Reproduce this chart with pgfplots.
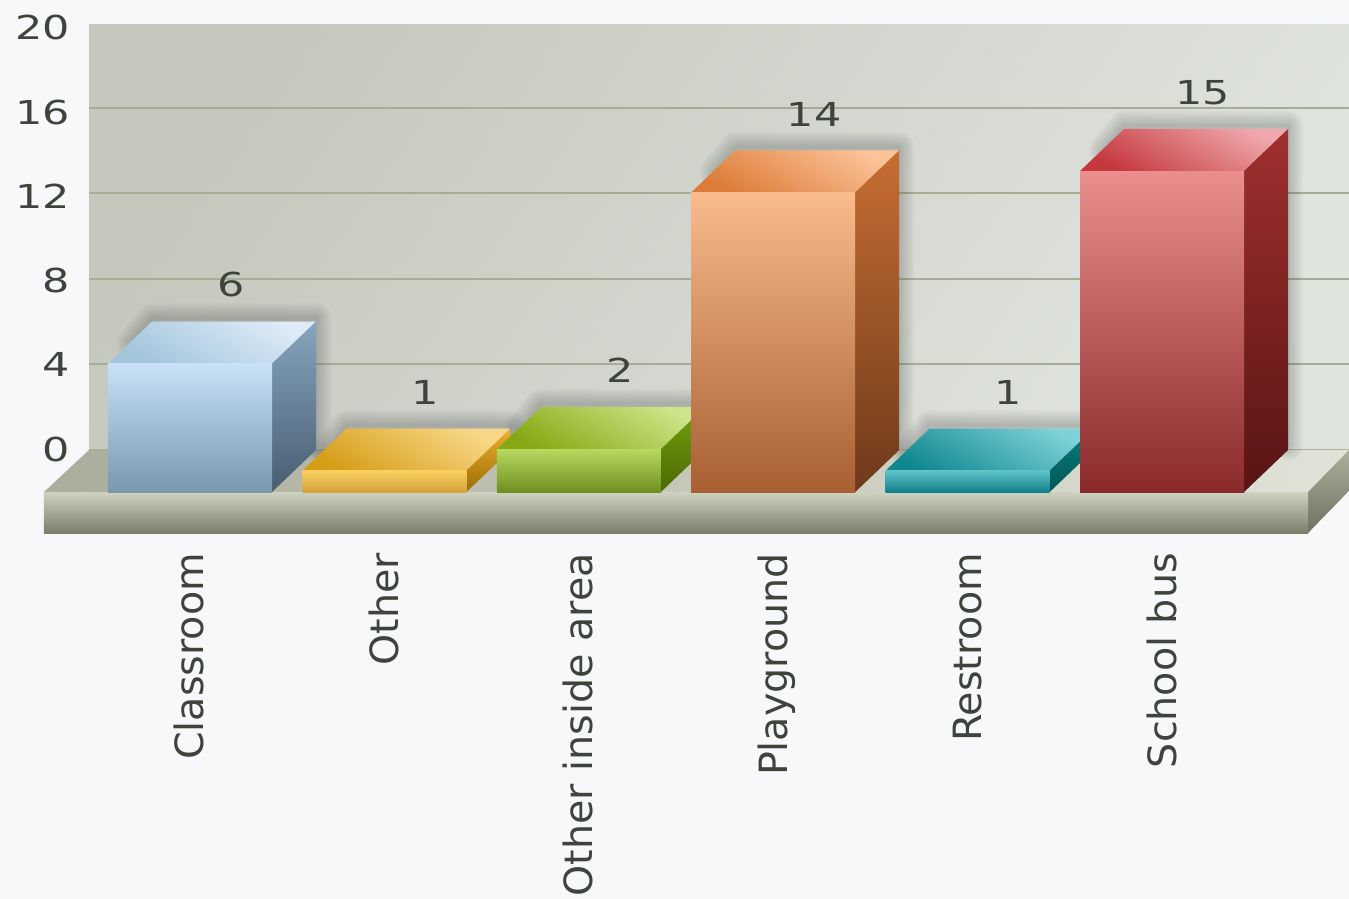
\documentclass[border=0pt]{standalone}
\usepackage{fontspec}
\setmainfont{DejaVu Sans}
\usepackage{graphicx}
\usepackage{pgfplots}
\usepackage{pgfplotstable}
\pgfplotsset{compat=1.18}

% one pt in the file is one pixel of the reference
\pgfplotstableread{
idx value
0 6
1 1
2 2
3 14
4 1
5 15
}\incidents

\definecolor{labeltext}{HTML}{3E443C}
% 1 front top, 2 front bottom, 3 side top, 4 side bottom, 5 lid dark, 6 lid light
\definecolor{aa1}{HTML}{C8E1F7}\definecolor{aa2}{HTML}{7898AE}\definecolor{aa3}{HTML}{86A5BE}\definecolor{aa4}{HTML}{495D72}\definecolor{aa5}{HTML}{A3C4DB}\definecolor{aa6}{HTML}{DEEBF8}
\definecolor{bb1}{HTML}{F9D060}\definecolor{bb2}{HTML}{D4A23A}\definecolor{bb3}{HTML}{F0AE2C}\definecolor{bb4}{HTML}{9A6E06}\definecolor{bb5}{HTML}{D69E18}\definecolor{bb6}{HTML}{F8D888}
\definecolor{cc1}{HTML}{B8D960}\definecolor{cc2}{HTML}{6F8E20}\definecolor{cc3}{HTML}{74A012}\definecolor{cc4}{HTML}{4A6A00}\definecolor{cc5}{HTML}{86A812}\definecolor{cc6}{HTML}{CDE588}
\definecolor{dd1}{HTML}{FABB8C}\definecolor{dd2}{HTML}{A85F32}\definecolor{dd3}{HTML}{C66E32}\definecolor{dd4}{HTML}{6E391C}\definecolor{dd5}{HTML}{DC7C38}\definecolor{dd6}{HTML}{FCC298}
\definecolor{ee1}{HTML}{5EC2C8}\definecolor{ee2}{HTML}{10808A}\definecolor{ee3}{HTML}{0B7C7C}\definecolor{ee4}{HTML}{005858}\definecolor{ee5}{HTML}{108890}\definecolor{ee6}{HTML}{80D2DA}
\definecolor{ff1}{HTML}{EA8E8E}\definecolor{ff2}{HTML}{8A2A2A}\definecolor{ff3}{HTML}{A03030}\definecolor{ff4}{HTML}{581414}\definecolor{ff5}{HTML}{C4383E}\definecolor{ff6}{HTML}{F0A8AC}

\newcommand\stretched[1]{\scalebox{1.3}[1]{#1}}
\newcommand\stretchedx[1]{\scalebox{1.2}[1.18]{#1}}
\newcommand\ylab[2]{\raisebox{-#2pt}{\stretched{#1}}}

% halo behind a bar: #1 category, #2 value
\newcommand\barhalo[2]{%
  \pgfmathsetmacro\hL{#1-0.3}\pgfmathsetmacro\hR{#1+0.4218}%
  \pgfmathsetmacro\hBL{#1-0.1955}\pgfmathsetmacro\hBR{#1+0.6481}%
  \pgfmathsetmacro\hF{#2-1.0}\pgfmathsetmacro\hT{#2+0.15}%
  \pgfplotsinvokeforeach{30,26,22,18,14,10,6,3}{%
    \addplot[draw=black!70,draw opacity=.04,line width=##1pt,line join=round,line cap=round]
      coordinates {(\hL,\hF) (\hBL,\hT) (\hBR,\hT) (\hBR,0.2)};
  }%
}
% the three faces: #1 category, #2 value, #3 colour prefix
\newcommand\drawbar[3]{%
  \pgfmathsetmacro\bL{#1-0.4218}\pgfmathsetmacro\bR{#1+0.4218}%
  \pgfmathsetmacro\bBL{#1-0.1955}\pgfmathsetmacro\bBR{#1+0.6481}%
  \pgfmathsetmacro\bF{#2-1.963}%
  \addplot[draw=none,top color=#36,bottom color=#35,shading angle=-30]
    coordinates {(\bL,\bF) (\bBL,#2) (\bBR,#2) (\bR,\bF)} -- cycle;
  \addplot[draw=none,top color=#33,bottom color=#34]
    coordinates {(\bR,-1.963) (\bR,\bF) (\bBR,#2) (\bBR,0)} -- cycle;
  \addplot[draw=none,top color=#31,bottom color=#32]
    coordinates {(\bL,-1.963) (\bL,\bF) (\bR,\bF) (\bR,-1.963)} -- cycle;
}

\begin{document}
\begin{tikzpicture}[x=1pt,y=1pt]
\clip (0,0) rectangle (1349,899);
\fill[color={rgb,255:red,247;green,248;blue,249}] (0,0) rectangle (1349,899);
% back wall, stops a little below the 20 line
\path[top color={rgb,255:red,196;green,200;blue,189},bottom color={rgb,255:red,224;green,228;blue,222},shading angle=55]
  (89,449) rectangle (1349,874);
\begin{axis}[
  at={(89pt,449pt)},
  anchor=south west,
  scale only axis,
  width=1260pt,
  height=428pt,
  xmin=-0.5195,
  xmax=5.962,
  ymin=0,
  ymax=20,
  clip=false,
  axis line style={draw=none},
  major tick length=0pt,
  ymajorgrids,
  grid style={color={rgb,255:red,168;green,172;blue,148},line width=2pt},
  ytick={0,4,8,12,16},
  yticklabels={\ylab{0}{0},\ylab{4}{0},\ylab{8}{2},\ylab{12}{3},\ylab{16}{5}},
  extra y ticks={20},
  extra y tick labels={\ylab{20}{6}},
  extra y tick style={grid=none},
  xtick={0,1,2,3,4,5},
  xticklabels={\stretchedx{Classroom},\stretchedx{Other},\stretchedx{Other inside area},\stretchedx{Playground},\stretchedx{Restroom},\stretchedx{School bus}},
  tick label style={font=\fontsize{33}{33}\selectfont,text=labeltext},
  yticklabel style={anchor=base east,inner sep=0pt,xshift=-19pt,yshift=-12pt},
  xticklabel style={rotate=90,anchor=base east,inner sep=0pt,xshift=-103pt,yshift=-14pt},
]
% floor
\addplot[draw=none,left color={rgb,255:red,170;green,173;blue,155},right color={rgb,255:red,224;green,227;blue,216}]
  coordinates {(-0.751,-1.963) (-0.5195,0) (5.962,0) (5.751,-1.963)} -- cycle;
\addplot[draw=none,top color={rgb,255:red,172;green,175;blue,155},bottom color={rgb,255:red,110;green,114;blue,98}]
  coordinates {(5.751,-1.963) (5.962,0) (5.962,-1.9) (5.751,-3.879)} -- cycle;
\addplot[draw=none,top color={rgb,255:red,206;green,210;blue,192},middle color={rgb,255:red,178;green,181;blue,161},bottom color={rgb,255:red,122;green,127;blue,108}]
  coordinates {(-0.751,-1.963) (5.751,-1.963) (5.751,-3.879) (-0.751,-3.879)} -- cycle;

\barhalo{0}{6}
\barhalo{1}{1}
\barhalo{2}{2}
\barhalo{3}{14}
\barhalo{4}{1}
\barhalo{5}{15}

\drawbar{0}{6}{aa}
\drawbar{1}{1}{bb}
\drawbar{2}{2}{cc}
\drawbar{3}{14}{dd}
\drawbar{4}{1}{ee}
\drawbar{5}{15}{ff}

% value labels sit over the back edge of each bar
\addplot[draw=none,mark=none,point meta=y,
  nodes near coords={\fontsize{33}{33}\selectfont\color{labeltext}\stretched{\pgfmathprintnumber[assume math mode=true]{\pgfplotspointmeta}}},
  nodes near coords style={anchor=south,inner sep=0pt,yshift=24pt}]
  table[x expr=\thisrow{idx}+0.21,y=value] {\incidents};
\end{axis}
\end{tikzpicture}
\end{document}
